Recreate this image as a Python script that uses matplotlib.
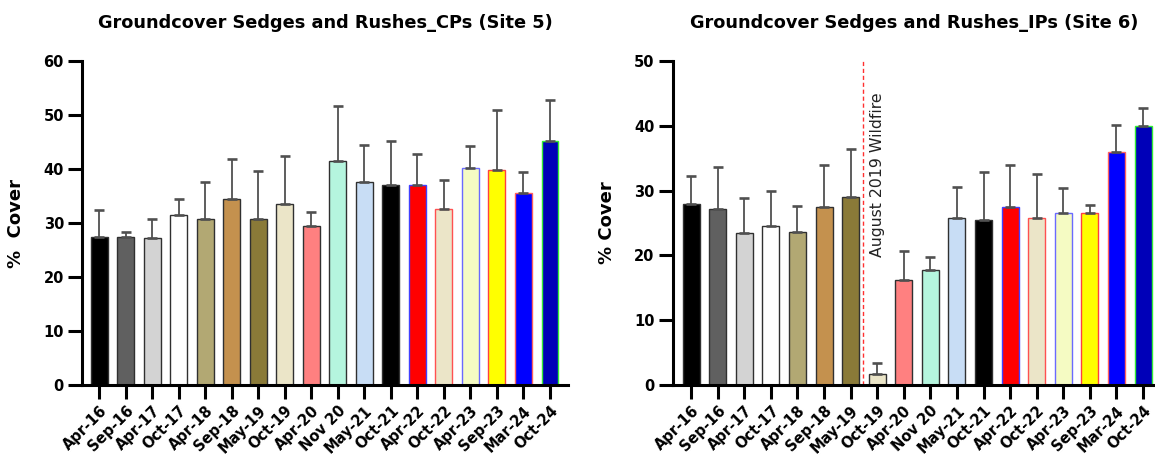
import matplotlib
matplotlib.use("Agg")
import matplotlib.pyplot as plt
import numpy as np

# survey dates (same for both sites)
dates = ["Apr-16", "Sep-16", "Apr-17", "Oct-17", "Apr-18", "Sep-18", "May-19",
         "Oct-19", "Apr-20", "Nov 20", "May-21", "Oct-21", "Apr-22", "Oct-22",
         "Apr-23", "Sep-23", "Mar-24", "Oct-24"]

# Site 5 (CPs) mean cover and upper error
cps_mean = [27.5, 27.5, 27.2, 31.4, 30.8, 34.5, 30.8, 33.5, 29.5,
            41.5, 37.6, 37.1, 37.1, 32.6, 40.2, 39.9, 35.5, 45.1]
cps_err = [4.9, 0.8, 3.6, 3.1, 6.8, 7.3, 8.8, 8.9, 2.6,
           10.1, 6.9, 8.0, 5.6, 5.3, 4.1, 11.0, 3.9, 7.6]

# Site 6 (IPs) mean cover and upper error
ips_mean = [27.9, 27.2, 23.4, 24.6, 23.6, 27.4, 29.0, 1.75, 16.2,
            17.7, 25.7, 25.5, 27.4, 25.7, 26.5, 26.5, 36.0, 39.9]
ips_err = [4.4, 6.4, 5.4, 5.4, 4.1, 6.5, 7.4, 1.7, 4.5,
           2.0, 4.8, 7.4, 6.5, 6.9, 3.9, 1.3, 4.2, 2.8]

fill_colors = ["#000000", "#606060", "#d3d3d3", "#ffffff", "#b2a873", "#c4914e",
               "#8a7a38", "#ebe5c8", "#ff8080", "#b5f5de", "#c8ddf5", "#000000",
               "#ff0000", "#ebe5c8", "#f5fbc3", "#ffff00", "#0000ff", "#0000b8"]
edge_colors = ["#303030"] * 12 + ["#4040ff", "#ff5050", "#6a6aff",
                                  "#ff4040", "#ff6060", "#33ee33"]

plt.rcParams.update({
    "font.family": ["DejaVu Sans"],
    "font.weight": "bold",
})


def draw_panel(ax, means, errs, title, ytop, ylabel, xlim):
    x = np.arange(len(dates))
    ax.bar(x, means, width=0.64, color=fill_colors, edgecolor=edge_colors,
           linewidth=1.0, zorder=2)
    ax.errorbar(x, means, yerr=[np.zeros(len(errs)), errs], fmt="none",
                ecolor="#505050", elinewidth=1.3, capsize=3.4, capthick=1.9,
                zorder=3)
    ax.set_xlim(*xlim)
    ax.set_ylim(0, ytop)
    ax.set_yticks(np.arange(0, ytop + 1, 10))
    ax.set_xticks(x)
    ax.set_xticklabels(dates, rotation=45, ha="right", rotation_mode="anchor",
                       fontsize=10.5, fontweight="bold")
    ax.tick_params(axis="y", labelsize=10.5, width=2.2, length=10, pad=3)
    ax.tick_params(axis="x", width=2.2, length=10, pad=3)
    for lab in ax.get_yticklabels():
        lab.set_fontweight("bold")
    for side in ["top", "right"]:
        ax.spines[side].set_visible(False)
    for side in ["left", "bottom"]:
        ax.spines[side].set_linewidth(2.2)
    ax.set_title(title, fontsize=12.8, fontweight="bold", pad=24)
    ax.set_ylabel(ylabel, fontsize=13, fontweight="bold")
    ax.yaxis.set_label_coords(-0.118, 0.5)


fig = plt.figure(figsize=(11.55, 4.57), dpi=100)
ax1 = fig.add_axes([0.0710, 0.1575, 0.4208, 0.709])
ax2 = fig.add_axes([0.5823, 0.1575, 0.4177, 0.709])

draw_panel(ax1, cps_mean, cps_err, "Groundcover Sedges and Rushes_CPs (Site 5)",
           60, "%  Cover", (-0.65, 17.68))
draw_panel(ax2, ips_mean, ips_err, "Groundcover Sedges and Rushes_IPs (Site 6)",
           50, "% Cover", (-0.70, 17.45))

# wildfire marker on site 6
ax2.axvline(6.46, ymin=0, ymax=1, color="#ff3030", linestyle=(0, (3, 2)),
            linewidth=1.0, zorder=1)
ax2.text(7.0, 45.2, "August 2019 Wildfire", rotation=90, ha="center", va="top",
         fontsize=11.3, fontweight="normal", color="#222222")

fig.savefig("out.png", dpi=100)
